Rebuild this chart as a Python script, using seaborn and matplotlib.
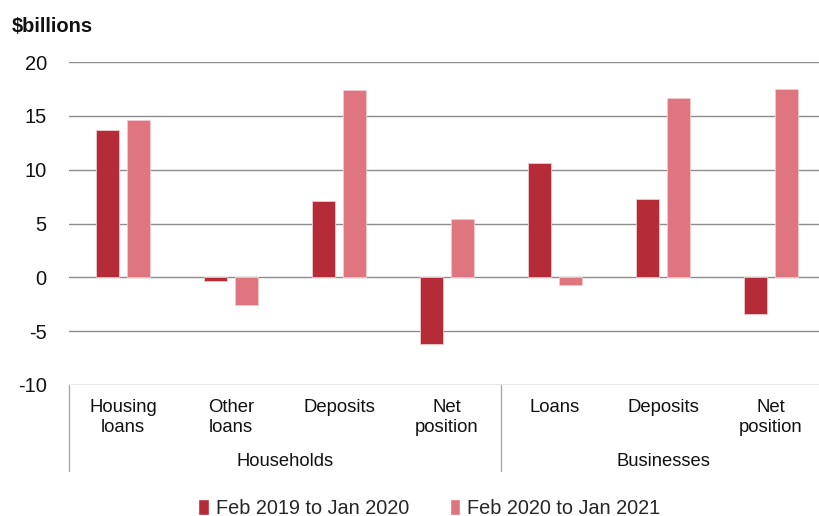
import matplotlib
matplotlib.use("Agg")
import matplotlib.pyplot as plt
import matplotlib.transforms as mtransforms
from matplotlib.patches import Patch
import pandas as pd
import seaborn as sns

# Data
categories = ["Housing\nloans", "Other\nloans", "Deposits", "Net\nposition",
              "Loans", "Deposits", "Net\nposition"]
keys = ["h_housing", "h_other", "h_deposits", "h_net",
        "b_loans", "b_deposits", "b_net"]
groups = ["Households", "Businesses"]
periods = ["Feb 2019 to Jan 2020", "Feb 2020 to Jan 2021"]
values_2019 = [13.7, -0.35, 7.1, -6.2, 10.6, 7.3, -3.4]
values_2020 = [14.6, -2.6, 17.4, 5.4, -0.75, 16.7, 17.5]

df = pd.DataFrame({
    "key": keys * 2,
    "period": [periods[0]] * len(keys) + [periods[1]] * len(keys),
    "value": values_2019 + values_2020,
})

dark = "#B52B38"
light = "#DF757E"

sns.set_style("white")
plt.rcParams["font.family"] = ["Liberation Sans", "DejaVu Sans"]

fig = plt.figure(figsize=(8.19, 5.16), dpi=100)
ax = fig.add_axes([69 / 819, 1 - 385 / 516, 756 / 819, (385 - 62) / 516])

sns.barplot(
    data=df, x="key", y="value", hue="period",
    order=keys, hue_order=periods,
    palette=[dark, light], saturation=1, width=0.574, gap=0.226,
    edgecolor="#f4c9cc", linewidth=0.6, legend=False, ax=ax
)

ax.set_xlim(-0.5, 6.5)
ax.set_ylim(-10, 20)
ax.set_yticks([-10, -5, 0, 5, 10, 15, 20])
ax.set_yticklabels(["-10", "-5", "0", "5", "10", "15", "20"], fontsize=14.5)
ax.tick_params(axis="y", length=0, pad=16, colors="#111111")
ax.set_axisbelow(True)
ax.yaxis.grid(True, color="#8c8c8c", linewidth=1)
for side in ["left", "right", "top", "bottom"]:
    ax.spines[side].set_visible(False)

ax.set_xticks(range(len(keys)))
ax.set_xticklabels(categories, fontsize=13.3, linespacing=1.25, color="#111111")
ax.tick_params(axis="x", length=0, pad=10)
ax.set_xlabel("")
ax.set_ylabel("")

# group separators and labels
trans = mtransforms.blended_transform_factory(ax.transData, ax.transAxes)
for xpos in [-0.5, 3.5]:
    ax.plot([xpos, xpos], [0, -0.265], transform=trans, color="#aaaaaa",
            linewidth=1, clip_on=False)
ax.text(1.5, -0.238, groups[0], transform=trans, ha="center", va="center",
        fontsize=13.2, color="#111111")
ax.text(5.0, -0.238, groups[1], transform=trans, ha="center", va="center",
        fontsize=13.2, color="#111111")

fig.text(12 / 819, 1 - 27 / 516, "$billions", fontsize=14.5, fontweight="bold",
         ha="left", va="center", color="#111111")

handles = [Patch(facecolor=dark), Patch(facecolor=light)]
fig.legend(handles, periods, loc="center", bbox_to_anchor=(0.524, 1 - 508 / 516),
           ncol=2, frameon=False, fontsize=14.3, handlelength=0.55,
           handleheight=0.85, handletextpad=0.35, columnspacing=2.05)

fig.savefig("out.png", dpi=100)
